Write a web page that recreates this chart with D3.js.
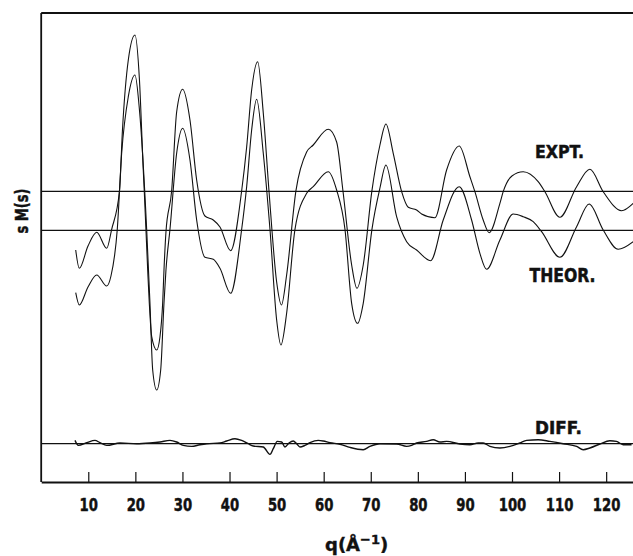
<!DOCTYPE html>
<html>
<head>
<meta charset="utf-8">
<script src="https://cdn.jsdelivr.net/npm/d3@7"></script>
<style>
  html, body { margin: 0; padding: 0; background: #fff; }
  svg { display: block; }
  text { font-family: "DejaVu Sans", "Liberation Sans", sans-serif; font-weight: bold; fill: #111; }
</style>
</head>
<body>
<svg id="chart" width="633" height="556"></svg>
<script>
// ---- data (q in 1/Å, sM(s) in arbitrary units) ----
const qTicks = [10, 20, 30, 40, 50, 60, 70, 80, 90, 100, 110, 120];
const tickLabels = ["10", "20", "30", "40", "50", "60", "70", "80", "90", "100", "110", "120"];

const exptQ = [7.33, 8.09, 9.94, 11.79, 13.91, 14.97, 16.63, 17.26, 18.50, 19.92, 20.87, 21.68, 21.89, 22.62, 22.96, 23.47, 24.53, 25.23, 25.80, 26.08, 26.50, 27.71, 28.77, 30.05, 31.60, 33.02, 34.78, 36.55, 37.97, 40.24, 42.58, 43.64, 44.70, 45.98, 47.17, 48.38, 50.01, 51.03, 52.13, 54.11, 56.38, 57.78, 60.97, 62.75, 64.09, 65.94, 67.06, 68.40, 70.25, 71.95, 73.22, 74.77, 76.56, 77.96, 79.74, 80.80, 83.63, 86.11, 88.79, 91.06, 92.12, 93.88, 95.16, 97.43, 98.13, 99.98, 102.38, 105.56, 106.99, 110.17, 113.72, 116.54, 119.37, 123.28, 125.74];
const exptV = [-5.87, -7.70, -5.47, -4.10, -5.70, -3.80, 0.06, 6.13, 13.13, 15.63, 11.13, 2.13, 0.06, -7.87, -11.17, -14.54, -15.87, -14.54, -11.17, -7.87, -4.07, 0.06, 7.93, 10.20, 7.13, 1.13, -2.47, -2.87, -3.57, -5.94, 0.06, 4.43, 10.13, 12.96, 7.83, 0.06, -9.07, -11.37, -8.37, 0.06, 3.93, 4.63, 6.20, 4.93, 0.06, -7.37, -9.70, -7.37, 0.06, 4.63, 6.73, 3.80, -0.04, -1.60, -1.87, -2.27, -2.64, 2.13, 4.53, 1.46, -0.04, -2.87, -4.14, -1.20, -0.04, 1.53, 1.96, 0.96, -0.04, -2.60, 0.46, 2.20, -0.04, -1.94, -1.20];

const theorQ = [7.33, 8.09, 9.94, 11.79, 13.91, 14.82, 16.16, 17.09, 18.50, 19.92, 20.87, 22.40, 23.10, 23.68, 24.53, 25.38, 26.08, 26.50, 27.35, 28.77, 30.05, 31.60, 33.02, 34.78, 36.55, 37.97, 40.24, 42.58, 43.64, 44.70, 45.76, 47.17, 48.59, 50.01, 50.92, 52.13, 53.90, 56.38, 57.78, 60.97, 62.75, 64.52, 65.94, 67.21, 68.40, 70.25, 71.95, 73.22, 75.49, 77.62, 79.74, 82.72, 85.39, 88.79, 91.42, 93.18, 94.61, 97.43, 100.26, 102.38, 104.50, 106.29, 110.17, 113.72, 116.39, 119.37, 122.55, 125.74];
const theorV = [-6.24, -7.47, -5.67, -4.47, -5.57, -4.57, 0.10, 7.70, 13.36, 15.53, 12.03, 0.10, -7.27, -13.97, -15.97, -13.97, -7.27, -3.97, 0.10, 7.70, 10.20, 7.03, 1.03, -2.70, -2.90, -3.80, -6.30, 0.10, 4.36, 10.03, 13.10, 7.70, 0.10, -8.97, -11.47, -8.30, 0.10, 3.70, 4.36, 5.86, 4.03, 0.10, -7.30, -9.30, -7.30, 0.10, 4.23, 6.53, 1.36, -1.14, -1.97, -3.04, 1.03, 4.36, 1.03, -2.30, -3.90, -0.97, 1.63, 1.36, 0.86, -0.14, -2.70, 0.36, 2.63, 0.03, -1.90, -1.14];

const diffQ = [7.18, 7.88, 9.66, 11.42, 12.49, 13.91, 16.73, 20.28, 23.10, 25.23, 27.35, 28.77, 30.18, 31.96, 33.72, 35.15, 37.97, 39.39, 41.16, 42.58, 43.98, 45.04, 47.17, 48.59, 49.29, 50.14, 51.07, 51.77, 52.69, 53.54, 54.26, 54.96, 56.02, 57.08, 58.85, 59.91, 61.33, 63.45, 65.58, 68.40, 69.82, 71.95, 75.49, 77.62, 78.68, 79.74, 81.86, 83.27, 84.69, 86.11, 88.93, 91.06, 92.82, 93.88, 95.31, 97.43, 99.56, 101.68, 103.10, 105.56, 108.05, 110.87, 113.72, 115.12, 116.54, 118.66, 120.78, 122.19, 123.61, 125.39];
const diffV = [0.33, -0.17, 0.10, 0.33, 0.10, -0.17, 0.07, 0.00, 0.07, 0.17, 0.33, 0.17, -0.17, -0.27, -0.10, 0.00, 0.07, 0.27, 0.50, 0.33, 0.00, -0.23, -0.33, -1.07, -0.50, 0.23, 0.17, -0.33, 0.10, 0.27, 0.00, -0.33, -0.17, 0.10, 0.33, 0.27, 0.10, -0.05, -0.37, -0.60, -0.27, 0.00, -0.03, -0.27, -0.17, 0.07, 0.23, 0.40, 0.17, 0.23, -0.03, -0.10, 0.07, 0.07, -0.27, -0.43, -0.27, 0.07, 0.33, 0.40, 0.23, 0.00, -0.27, -0.60, -0.43, -0.03, 0.30, 0.23, -0.10, -0.10];

// vertical offsets of the three traces (same arbitrary units)
const offsets = { expt: 29.07, theor: 25.17, diff: 3.83 };

// ---- drawing ----
const svg = d3.select("#chart");
const x = d3.scaleLinear().domain([0, 125.7]).range([41.2, 633]);
const y = d3.scaleLinear().domain([0, 46.9]).range([482, 13]);

const line = d3.line().x(d => x(d[0])).y(d => y(d[1])).curve(d3.curveMonotoneX);

// frame: top and left
svg.append("line").attr("x1", x(0)).attr("x2", 633).attr("y1", y(46.9)).attr("y2", y(46.9))
  .attr("stroke", "#111").attr("stroke-width", 1.8);
svg.append("line").attr("x1", x(0)).attr("x2", x(0)).attr("y1", y(46.9)).attr("y2", y(0))
  .attr("stroke", "#111").attr("stroke-width", 1.8);

// baselines
Object.values(offsets).forEach(o => {
  svg.append("line").attr("x1", x(0)).attr("x2", 633).attr("y1", y(o)).attr("y2", y(o))
    .attr("stroke", "#111").attr("stroke-width", 1.3);
});

// curves
function trace(qs, vs, off, w) {
  svg.append("path").datum(qs.map((q, i) => [q, vs[i] + off]))
    .attr("d", line).attr("fill", "none").attr("stroke", "#111").attr("stroke-width", w);
}
trace(exptQ, exptV, offsets.expt, 1.1);
trace(theorQ, theorV, offsets.theor, 1.1);
trace(diffQ, diffV, offsets.diff, 1.4);

// x axis
const ax = svg.append("g").attr("transform", `translate(0,${y(0)})`)
  .call(d3.axisBottom(x).tickValues(qTicks).tickFormat((d, i) => tickLabels[i])
    .tickSize(-10).tickSizeOuter(0).tickPadding(16));
ax.select(".domain").attr("stroke", "#111").attr("stroke-width", 2);
ax.selectAll(".tick line").attr("stroke", "#111").attr("stroke-width", 1.2);
ax.selectAll(".tick text").attr("font-size", 18).attr("font-family", "DejaVu Sans")
  .attr("font-weight", "bold").attr("fill", "#111")
  .attr("stroke", "#111").attr("stroke-width", 0.5)
  .attr("textLength", d => String(d).length * 9.2).attr("lengthAdjust", "spacingAndGlyphs");

// x axis title
const xt = svg.append("text").attr("x", 325).attr("y", 551).attr("font-size", 18)
  .attr("stroke", "#111").attr("stroke-width", 0.4);
xt.append("tspan").text("q(Å");
xt.append("tspan").attr("dy", -7).attr("font-size", 13).text("−1");
xt.append("tspan").attr("dy", 7).text(")");

// y axis title
svg.append("text").attr("transform", "translate(28,211) rotate(-90)")
  .attr("text-anchor", "middle").attr("font-size", 18)
  .attr("stroke", "#111").attr("stroke-width", 0.5)
  .attr("textLength", 45).attr("lengthAdjust", "spacingAndGlyphs").text("s M(s)");

// trace labels
const lab = (tx, ty, fs, len, s) => svg.append("text").attr("x", tx).attr("y", ty)
  .attr("font-size", fs).attr("stroke", "#111").attr("stroke-width", 0.5)
  .attr("textLength", len).attr("lengthAdjust", "spacingAndGlyphs").text(s);
lab(535, 158, 18, 49, "EXPT.");
lab(529.5, 282, 19, 66, "THEOR.");
lab(535, 434, 17, 47, "DIFF.");
</script>
</body>
</html>
